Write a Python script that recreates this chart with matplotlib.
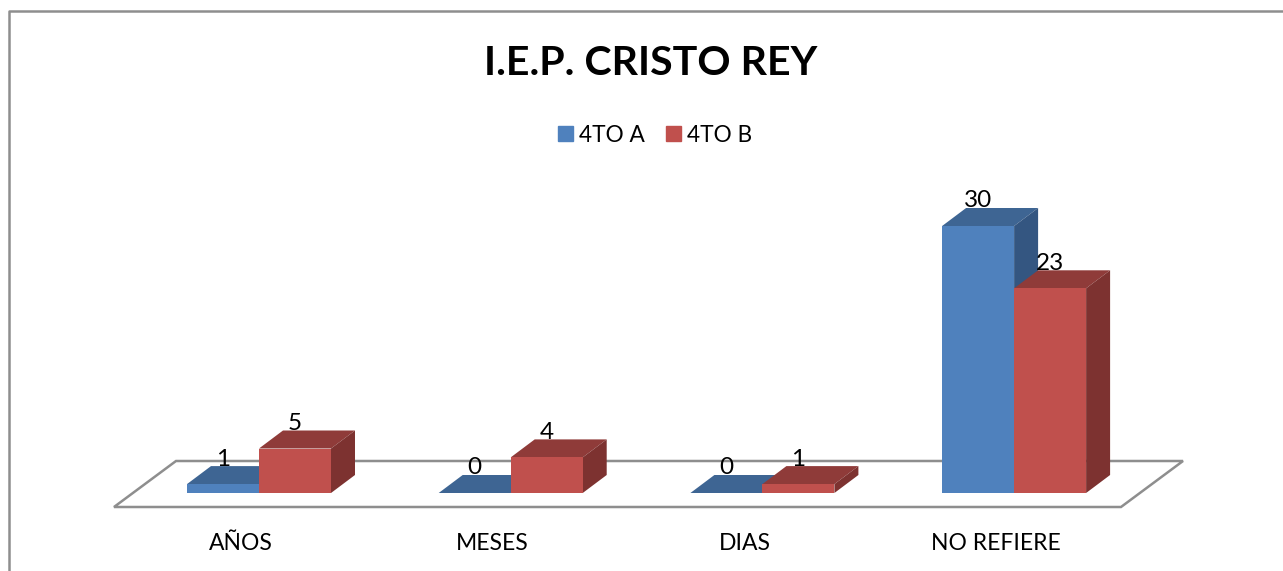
import numpy as np
import matplotlib
matplotlib.use('Agg')
import matplotlib.pyplot as plt
from matplotlib.patches import Patch, Polygon

# Datos
categorias = ['AÑOS', 'MESES', 'DIAS', 'NO REFIERE']
serie_a = [1, 0, 0, 30]
serie_b = [5, 4, 1, 23]
nombres = ['4TO A', '4TO B']

W = 1283
H = 571
px_x = 251.7    # px per categoria
px_y = 8.9      # px per unidad
x0_px = 259     # centro del primer grupo
y0_px = 493     # linea base

plt.rcParams['font.family'] = ['Lato', 'DejaVu Sans']

fig = plt.figure(figsize=(W/100, H/100), dpi=100)
ax = fig.add_axes([0, 0, 1, 1])
ax.set_xlim(-x0_px/px_x, (W-x0_px)/px_x)
ax.set_ylim(-(H-y0_px)/px_y, y0_px/px_y)
ax.axis('off')

ancho = 72/px_x
dx = 24/px_x
dy = 18/px_y


def px2data(px, py):
    return (px-x0_px)/px_x, (y0_px-py)/px_y


# Marco exterior
marco = [px2data(*p) for p in [(9, 571), (9, 11), (1283, 11)]]
ax.plot(*zip(*marco), color='#8e8e8e', lw=1.8, zorder=1)

# Piso
piso = [px2data(*p) for p in [(114, 507), (1121, 507), (1183, 461), (176, 461)]]
ax.add_patch(Polygon(piso, closed=True, fc='white', ec='#8e8e8e', lw=1.8, zorder=1))


def barra3d(x, v, cf, ct, cs):
    # cara superior y lateral, luego frente
    ax.add_patch(Polygon([(x, v), (x+ancho, v), (x+ancho+dx, v+dy), (x+dx, v+dy)],
                         fc=ct, ec='none', zorder=3))
    ax.add_patch(Polygon([(x+ancho, 0), (x+ancho+dx, dy), (x+ancho+dx, v+dy), (x+ancho, v)],
                         fc=cs, ec='none', zorder=3))
    if v > 0:
        ax.bar(x, v, width=ancho, align='edge', color=cf, zorder=3)
    ax.text(x+ancho/2, v+dy+7/px_y, str(v), ha='center', va='center',
            fontsize=17.5, color='black', zorder=5)


for i in range(len(categorias)):
    barra3d(i-ancho, serie_a[i], '#4f81bd', '#3e6593', '#345681')
    barra3d(i, serie_b[i], '#c0504d', '#8f3b39', '#7d3230')
    ax.text(i-18/px_x, -50/px_y, categorias[i], ha='center', va='center',
            fontsize=16.5, color='black')

ax.text(*px2data(651, 64), 'I.E.P. CRISTO REY', ha='center', va='center',
        fontsize=29.6, fontweight='bold', color='black')

handles = [Patch(color='#4f81bd', label=nombres[0]),
           Patch(color='#c0504d', label=nombres[1])]
ax.legend(handles=handles, loc='center', bbox_to_anchor=(655/W, 1-135/H), ncol=2,
          frameon=False, fontsize=16.3, handlelength=0.66, handleheight=0.66,
          handletextpad=0.27, columnspacing=0.93, borderpad=0)

fig.savefig('out.png', dpi=100)
